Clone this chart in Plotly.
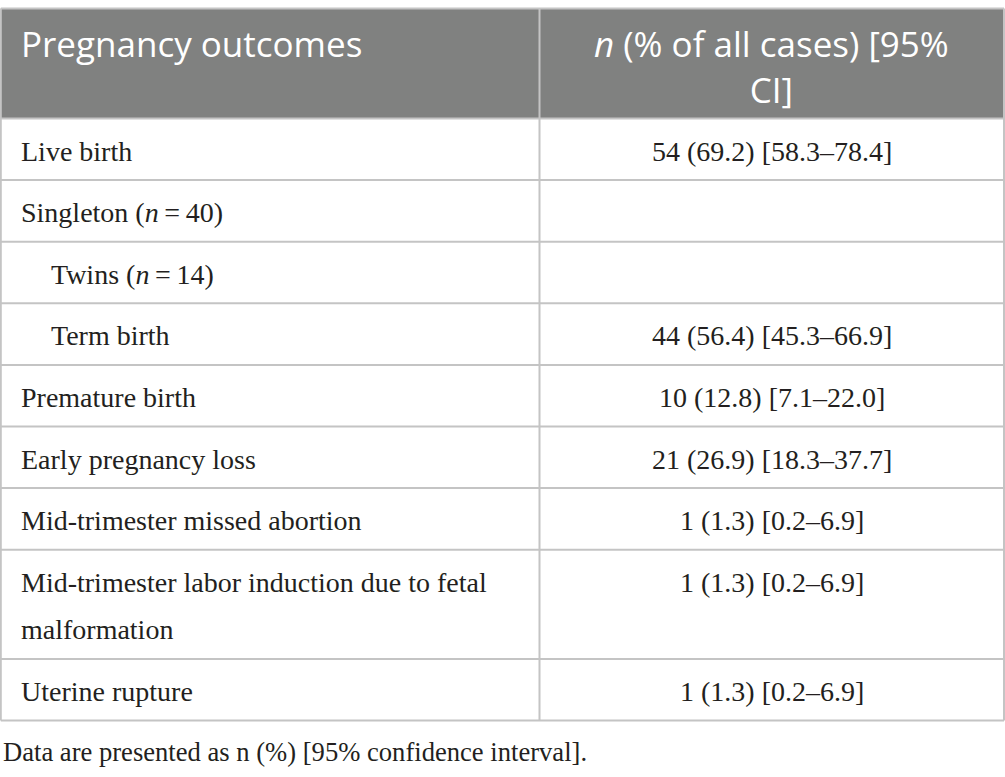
import plotly.graph_objects as go

# ---- data ----
header = ["Pregnancy outcomes", "<i>n</i> (% of all cases) [95%<br>CI]"]
outcomes = [
    "Live birth",
    "Singleton (<i>n</i>\u2009=\u200940)",
    "Twins (<i>n</i>\u2009=\u200914)",
    "Term birth",
    "Premature birth",
    "Early pregnancy loss",
    "Mid-trimester missed abortion",
    "Mid-trimester labor induction due to fetal<br>malformation",
    "Uterine rupture",
]
indent_level = [0, 0, 1, 1, 0, 0, 0, 0, 0]
counts = [54, None, None, 44, 10, 21, 1, 1, 1]
percents = [69.2, None, None, 56.4, 12.8, 26.9, 1.3, 1.3, 1.3]
ci_low = [58.3, None, None, 45.3, 7.1, 18.3, 0.2, 0.2, 0.2]
ci_high = [78.4, None, None, 66.9, 22.0, 37.7, 6.9, 6.9, 6.9]
footnote = "Data are presented as n (%) [95% confidence interval]."

# ---- layout / style ----
W, H = 1005, 777
X_LEFT, X_MID, X_RIGHT = 0.8, 539.5, 1004.0
Y_TOP = 8.5
HEADER_H = 110.0
ROW_H = 61.6
LINE_H = 47.7
PAD_X = 18
INDENT = 30
GRID = "#c4c4c4"
HEADER_FILL = "#808180"
TEXT = "#231f20"
SANS = "Open Sans"
SERIF = "Liberation Serif"
HFS, BFS, FFS = 35, 28, 26.6


def fmt(n, p, lo, hi):
    if n is None:
        return ""
    return f"{n} ({p:.1f}) [{lo:.1f}\u2013{hi:.1f}]"


values = [fmt(*t) for t in zip(counts, percents, ci_low, ci_high)]

fig = go.Figure()
shapes = []
annotations = []

# header background
header_bottom = Y_TOP + HEADER_H
shapes.append(dict(type="rect", xref="x", yref="y", x0=X_LEFT, x1=X_RIGHT,
                   y0=Y_TOP, y1=header_bottom, fillcolor=HEADER_FILL,
                   line=dict(width=0), layer="below"))

# header text (top-aligned: first baseline shared by both columns)
col_x = [X_LEFT + PAD_X, (X_MID + X_RIGHT) / 2]
col_anchor = ["left", "center"]
HEADER_LINE_PITCH = 0.65 * HFS  # half of plotly's 1.3 line spacing
for ci, label in enumerate(header):
    nl = len(label.split("<br>"))
    annotations.append(dict(
        x=col_x[ci], y=Y_TOP + 35.4 + (nl - 1) * HEADER_LINE_PITCH,
        xref="x", yref="y", text=label, showarrow=False,
        xanchor=col_anchor[ci], yanchor="middle", align=col_anchor[ci],
        font=dict(family=SANS, size=HFS, color="white")))

# body rows
row_tops = [header_bottom]
for i, label in enumerate(outcomes):
    nlines = len(label.split("<br>"))
    top = row_tops[-1]
    row_tops.append(top + ROW_H + (nlines - 1) * LINE_H)
    for li, line in enumerate(label.split("<br>")):
        annotations.append(dict(
            x=X_LEFT + PAD_X + indent_level[i] * INDENT,
            y=top + 32.5 + li * LINE_H,
            xref="x", yref="y", text=line, showarrow=False,
            xanchor="left", yanchor="middle",
            font=dict(family=SERIF, size=BFS, color=TEXT)))
    if values[i]:
        annotations.append(dict(
            x=col_x[1], y=top + 32.5, xref="x", yref="y", text=values[i],
            showarrow=False, xanchor="center", yanchor="middle",
            font=dict(family=SERIF, size=BFS, color=TEXT)))

table_bottom = row_tops[-1]

# grid lines
line_ys = [Y_TOP] + row_tops
for y in line_ys:
    shapes.append(dict(type="line", xref="x", yref="y", x0=X_LEFT, x1=X_RIGHT,
                       y0=y, y1=y, line=dict(color=GRID, width=2)))
for x in (X_LEFT, X_MID, X_RIGHT):
    shapes.append(dict(type="line", xref="x", yref="y", x0=x, x1=x,
                       y0=Y_TOP, y1=table_bottom, line=dict(color=GRID, width=2)))

# footnote
annotations.append(dict(
    x=0.5, y=table_bottom + 31.5, xref="x", yref="y", text=footnote,
    showarrow=False, xanchor="left", yanchor="middle",
    font=dict(family=SERIF, size=FFS, color=TEXT)))

fig.update_layout(
    width=W, height=H,
    margin=dict(l=0, r=0, t=0, b=0),
    paper_bgcolor="white", plot_bgcolor="white",
    xaxis=dict(range=[0, W], visible=False, fixedrange=True),
    yaxis=dict(range=[H, 0], visible=False, fixedrange=True),
    shapes=shapes, annotations=annotations,
    showlegend=False,
)

# remove the default page margin so the figure fills the window exactly
fig.write_html(
    "out.html",
    config={"displayModeBar": False, "staticPlot": True},
    post_script="document.body.style.margin='0';"
                "document.body.style.overflow='hidden';",
)
